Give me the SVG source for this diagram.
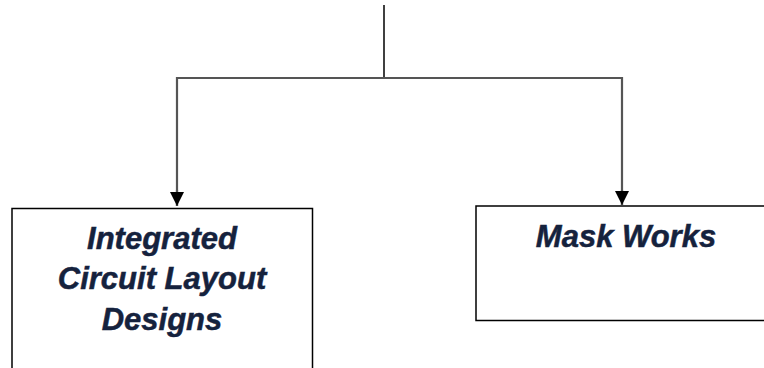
<svg xmlns="http://www.w3.org/2000/svg" width="764" height="368" viewBox="0 0 764 368">
  <defs>
    <marker id="arrow" markerWidth="14" markerHeight="14" refX="14" refY="7" orient="auto" markerUnits="userSpaceOnUse" viewBox="0 0 14 14">
      <path d="M0,0 L14,7 L0,14 Z" fill="#000"/>
    </marker>
  </defs>
  <style>
    .box { fill: #fff; stroke: #000; stroke-width: 1.5; }
    .label { font-family: "Liberation Sans", Arial, sans-serif; font-weight: bold; font-style: italic; font-size: 31px; fill: #15223d; stroke: #15223d; stroke-width: 0.5; text-anchor: middle; }
    .wire { fill: none; stroke: #555; stroke-width: 2.2; }
  </style>
  <rect width="764" height="368" fill="#fff"/>

  <g id="connectors">
    <line x1="384" y1="5" x2="384" y2="78" stroke="#000" stroke-width="1.5"/>
    <path class="wire" d="M177,206 V78 H622 V205"/>
    <path class="wire" d="M177,190 V206" marker-end="url(#arrow)"/>
    <path class="wire" d="M622,190 V205" marker-end="url(#arrow)"/>
  </g>

  <g id="node-icld">
    <rect class="box" x="12" y="208.5" width="300.5" height="170"/>
    <text class="label" x="162" y="249">Integrated</text>
    <text class="label" x="162" y="289">Circuit Layout</text>
    <text class="label" x="162" y="330">Designs</text>
  </g>

  <g id="node-mask-works">
    <rect class="box" x="476" y="206" width="300" height="114.5"/>
    <text class="label" x="626" y="247">Mask Works</text>
  </g>
</svg>
